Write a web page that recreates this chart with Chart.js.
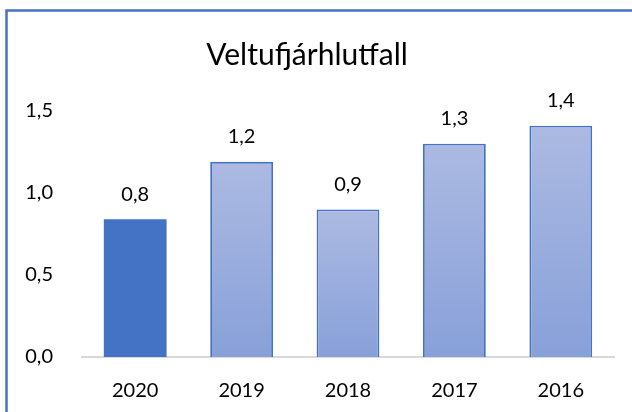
<!doctype html>
<html>
<head>
	<meta charset="utf-8">
	<title>Veltufjárhlutfall</title>
	<script src="https://cdn.jsdelivr.net/npm/chart.js@4/dist/chart.umd.min.js"></script>
	<style>
	body { margin: 0; background: #fff; }
	</style>
</head>
<body>
	<canvas id="chart" width="632" height="412"></canvas>
	<script>
		var years = ['2020', '2019', '2018', '2017', '2016'];
		var ratios = [0.84, 1.19, 0.90, 1.30, 1.41];
		var valueLabels = ['0,8', '1,2', '0,9', '1,3', '1,4'];

		var fontFamily = 'Lato, "Open Sans", sans-serif';

		function barFill(context) {
			var chart = context.chart;
			if (context.dataIndex === 0) return '#4472c4';
			if (!chart.chartArea) return '#9aafdc';
			var y = chart.scales.y;
			var top = y.getPixelForValue(ratios[context.dataIndex]);
			var bottom = y.getPixelForValue(0);
			var g = chart.ctx.createLinearGradient(0, top, 0, bottom);
			g.addColorStop(0, '#acbae2');
			g.addColorStop(1, '#88a0d9');
			return g;
		}

		// frame on top and left edge, plus value labels over bars
		var extras = {
			id: 'extras',
			afterDraw: function(chart) {
				var ctx = chart.ctx;
				ctx.save();
				ctx.strokeStyle = '#4472c4';
				ctx.lineWidth = 2.5;
				ctx.beginPath();
				ctx.moveTo(6.5, 412);
				ctx.lineTo(6.5, 10.5);
				ctx.lineTo(632, 10.5);
				ctx.stroke();

				ctx.fillStyle = '#000';
				ctx.font = '20px ' + fontFamily;
				ctx.textAlign = 'center';
				ctx.textBaseline = 'middle';
				chart.getDatasetMeta(0).data.forEach(function(bar, i) {
					ctx.fillText(valueLabels[i], bar.x, bar.y - 25);
				});
				ctx.restore();
			}
		};

		new Chart(document.getElementById('chart'), {
			type: 'bar',
			data: {
				labels: years,
				datasets: [{
					data: ratios,
					backgroundColor: barFill,
					borderColor: '#4472c4',
					borderWidth: function(c) { return c.dataIndex === 0 ? 0 : 1.8; },
					categoryPercentage: 1,
					barPercentage: 0.59
				}]
			},
			options: {
				responsive: false,
				animation: false,
				layout: { padding: { left: 0, right: 18, top: 0, bottom: 0 } },
				plugins: {
					legend: { display: false },
					tooltip: { enabled: false },
					title: {
						display: true,
						text: 'Veltufjárhlutfall',
						color: '#000',
						font: { family: fontFamily, size: 30, weight: 'normal' },
						padding: { top: 37, bottom: 38 }
					}
				},
				scales: {
					x: {
						afterFit: function(scale) { scale.height = 55; },
						grid: { display: false, drawTicks: false },
						border: { display: true, color: '#d9d9d9', width: 2 },
						ticks: { color: '#000', padding: 22, font: { family: fontFamily, size: 20 } }
					},
					y: {
						min: 0,
						max: 1.5,
						afterFit: function(scale) { scale.width = 82; },
						grid: { display: false, drawTicks: false },
						border: { display: false },
						ticks: {
							stepSize: 0.5,
							color: '#000',
							padding: 29,
							font: { family: fontFamily, size: 20 },
							callback: function(v) { return v.toFixed(1).replace('.', ','); }
						}
					}
				}
			},
			plugins: [extras]
		});
	</script>
</body>
</html>
